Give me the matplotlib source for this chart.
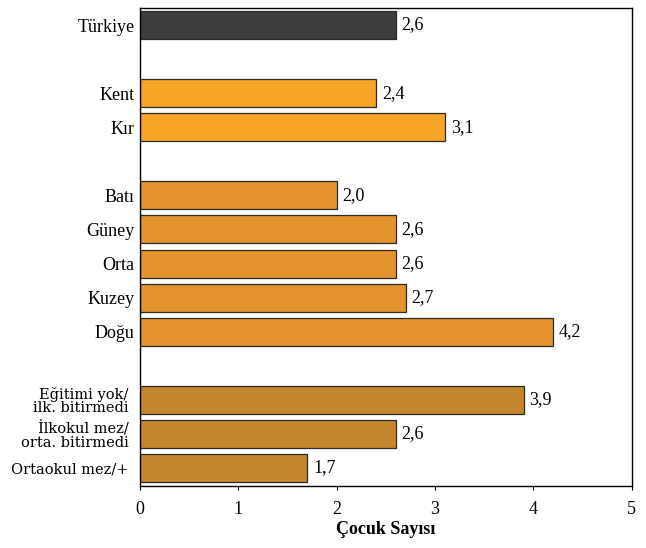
import matplotlib.pyplot as plt

# ortalama çocuk sayısı
etiketler = ['Türkiye', 'Kent', 'Kır', 'Batı', 'Güney', 'Orta', 'Kuzey', 'Doğu',
             'Eğitimi yok/\nilk. bitirmedi', 'İlkokul mez/\norta. bitirmedi', 'Ortaokul mez/+']
degerler = [2.6, 2.4, 3.1, 2.0, 2.6, 2.6, 2.7, 4.2, 3.9, 2.6, 1.7]
gruplar = ['genel', 'yerlesim', 'yerlesim', 'bolge', 'bolge', 'bolge', 'bolge', 'bolge',
           'egitim', 'egitim', 'egitim']

renkler = {'genel': '#3d3d3f', 'yerlesim': '#f6a524', 'bolge': '#e3922c', 'egitim': '#c4862c'}

# gruplar arasinda bir satir bosluk birak
konum = []
y = 0
onceki = None
for g in gruplar:
    if onceki is not None and g != onceki:
        y += 1
    konum.append(y)
    y += 1
    onceki = g

plt.rcParams['font.family'] = ['Liberation Serif', 'DejaVu Serif']

fig = plt.figure(figsize=(6.46, 5.48), dpi=100)
ax = fig.add_axes([0.2167, 0.1131, 0.7613, 0.8723])

ax.barh(konum, degerler, height=0.82, color=[renkler[g] for g in gruplar],
        edgecolor='#2a2a2a', linewidth=0.9)

for k, d in zip(konum, degerler):
    ax.text(d + 0.06, k, f'{d:.1f}'.replace('.', ','), va='center', ha='left', fontsize=13)

ax.set_yticks(konum)
ax.set_yticklabels(etiketler)
for lbl, g in zip(ax.get_yticklabels(), gruplar):
    if g == 'egitim':
        lbl.set_family(['DejaVu Serif'])
        lbl.set_fontsize(10.5)
        lbl.set_linespacing(0.95)
        lbl.set_x(-0.012)
    else:
        lbl.set_fontsize(13)
ax.tick_params(axis='y', length=0, pad=4)

ax.set_xlim(0, 5)
ax.set_ylim(konum[-1] + 0.53, -0.5)
ax.set_xticks(range(6))
ax.tick_params(axis='x', labelsize=13, length=3, direction='out', pad=8)
ax.set_xlabel('Çocuk Sayısı', fontsize=13, fontweight='bold', labelpad=2)

for s in ax.spines.values():
    s.set_linewidth(1.0)

fig.savefig('out.png', dpi=100)
